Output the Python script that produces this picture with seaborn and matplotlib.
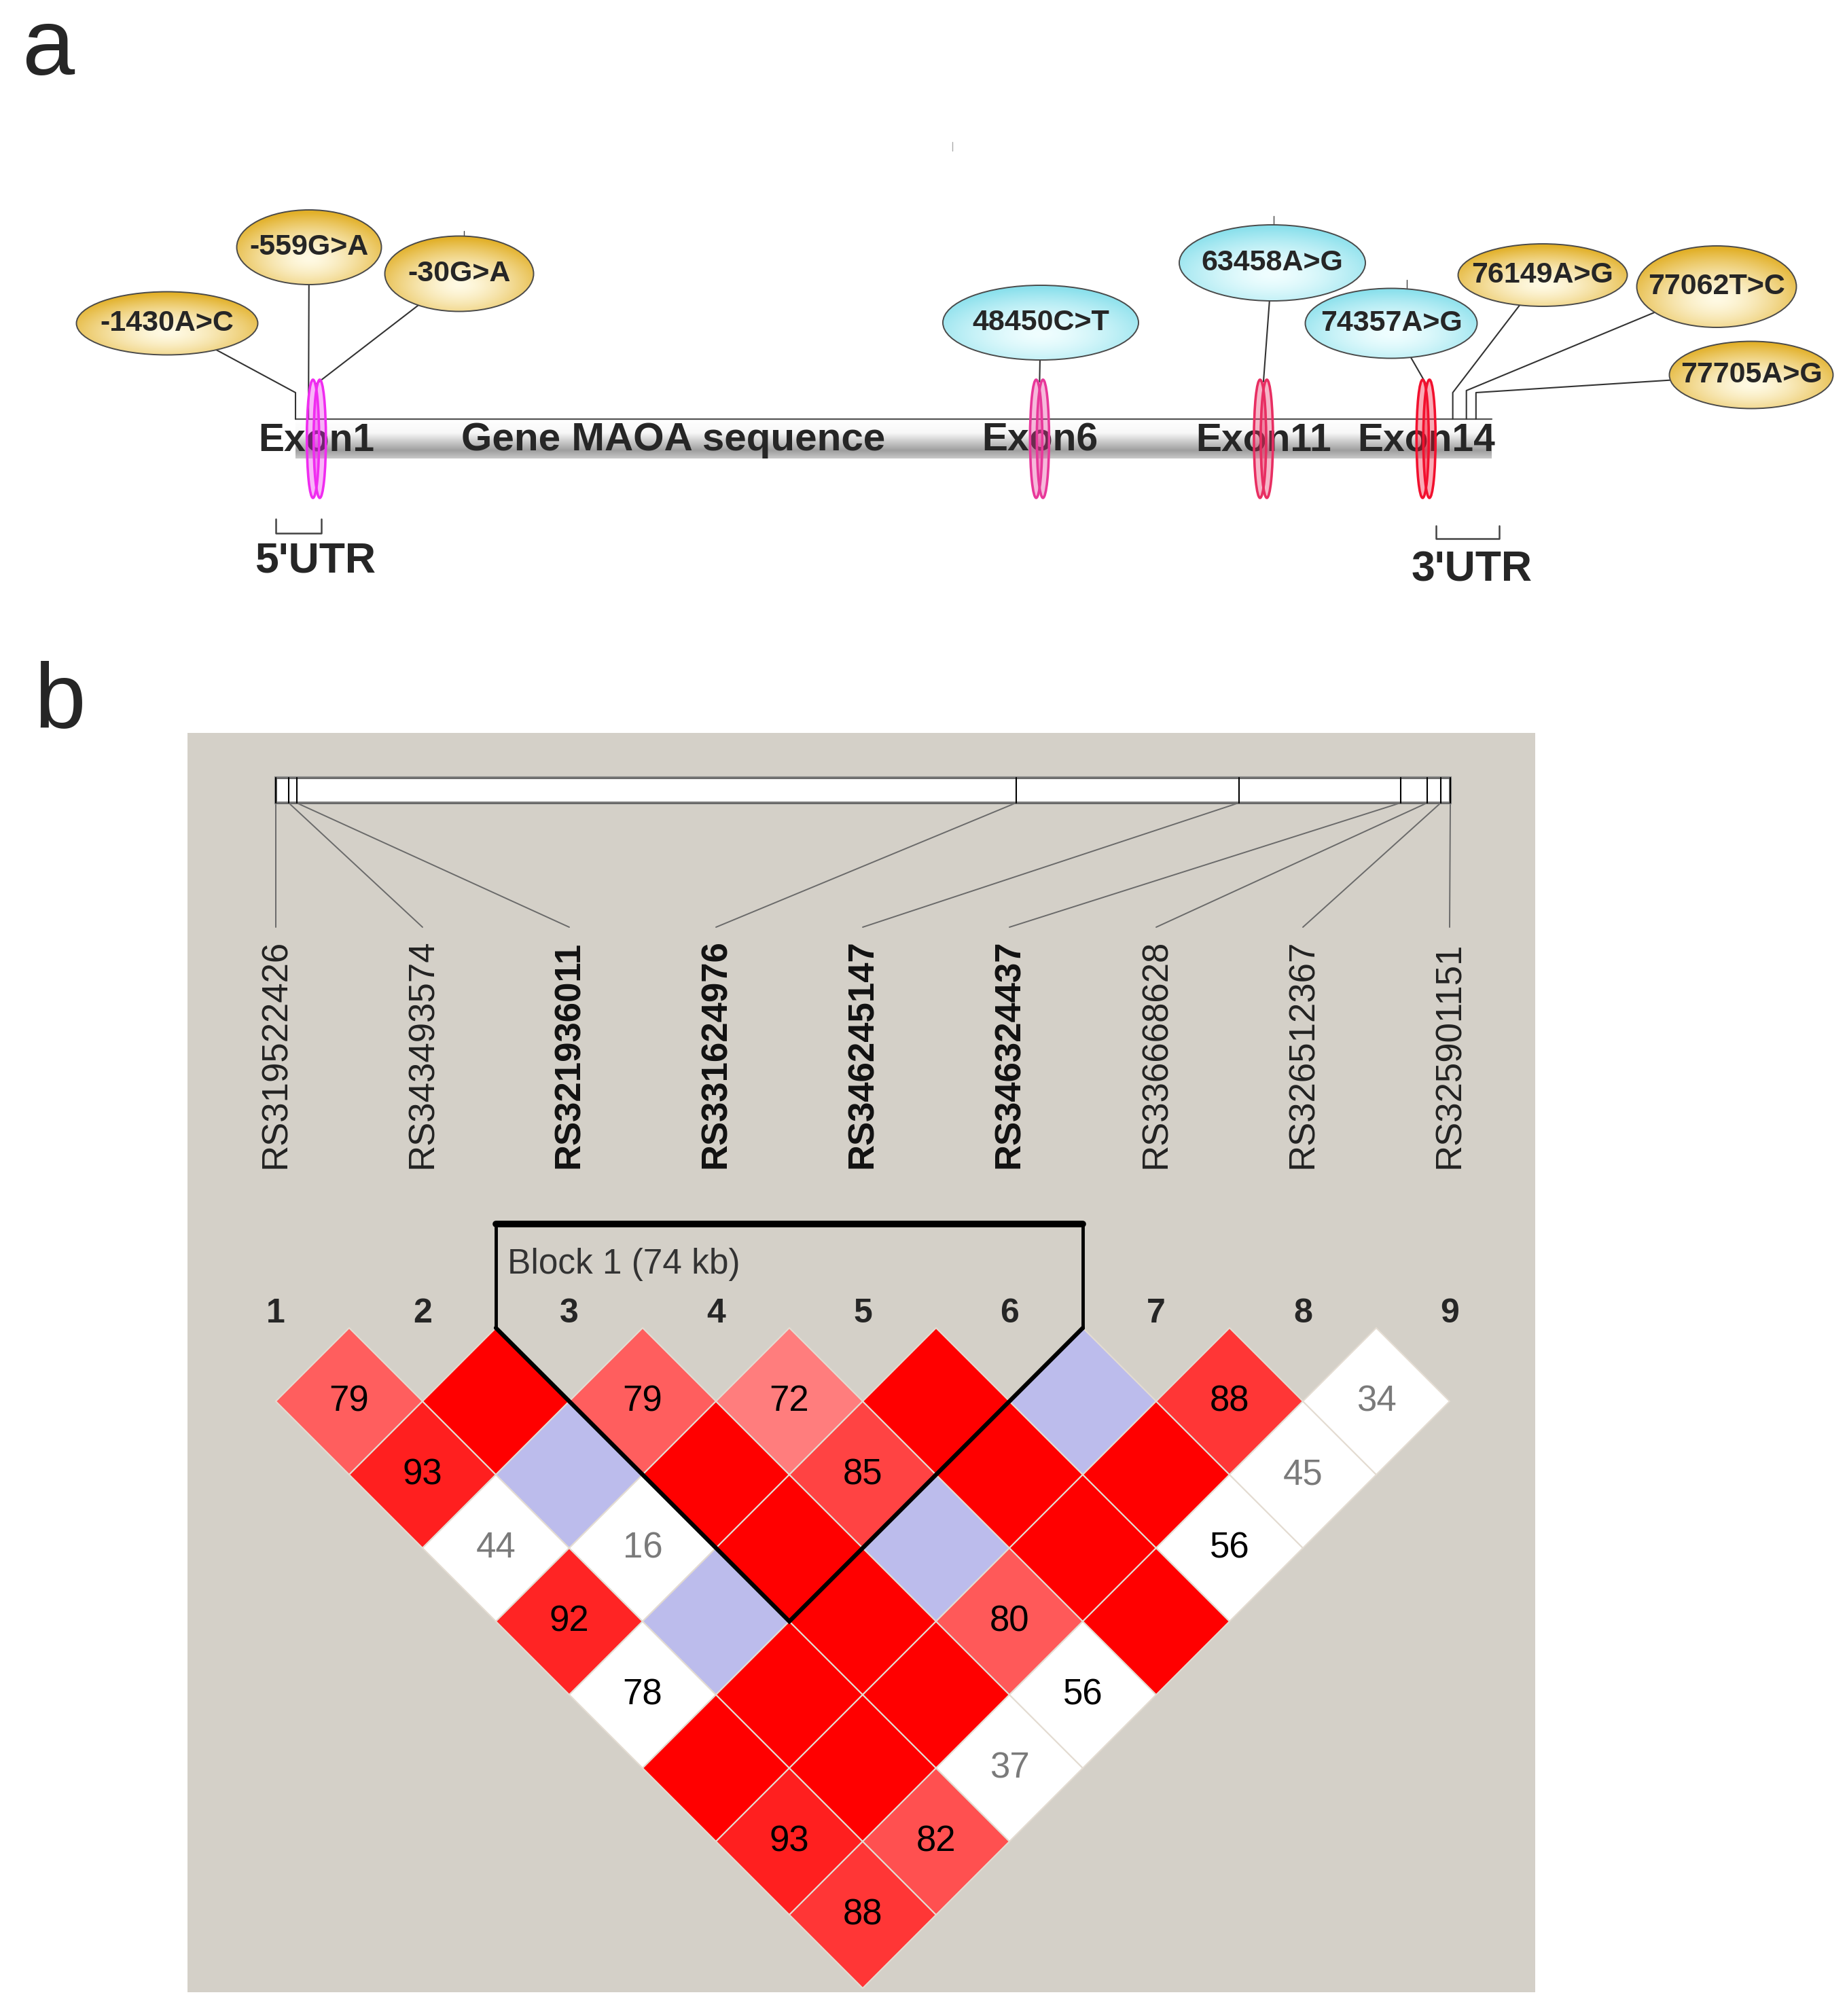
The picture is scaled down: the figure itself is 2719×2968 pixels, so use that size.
import numpy as np
import pandas as pd
import matplotlib
matplotlib.use("Agg")
import matplotlib.pyplot as plt
from matplotlib.patches import Ellipse, Polygon, Rectangle
import seaborn as sns

# ---- data: MAOA SNPs (panel a) ----
snp_names = ["-1430A>C", "-559G>A", "-30G>A", "48450C>T", "63458A>G",
             "74357A>G", "76149A>G", "77062T>C", "77705A>G"]
snp_pos = [-1430, -559, -30, 48450, 63458, 74357, 76149, 77062, 77705]
snp_region = ["UTR", "UTR", "UTR", "CDS", "CDS", "CDS", "UTR", "UTR", "UTR"]
exon_names = ["Exon1", "Exon6", "Exon11", "Exon14"]
exon_pos = [-30, 48450, 63458, 74357]
gene_label = "Gene MAOA sequence"

# ---- data: LD plot (panel b) ----
rs_ids = ["RS319522426", "RS343493574", "RS321936011", "RS331624976", "RS346245147",
          "RS346324437", "RS336668628", "RS326512367", "RS325901151"]
block_first, block_last = 3, 6

# D' (x100) for marker i against markers i+1..9
dprime_rows = [
    [79, 93, 44, 92, 78, 100, 93, 88],
    [100, 100, 16, 100, 100, 100, 82],
    [79, 100, 100, 100, 100, 37],
    [72, 85, 100, 80, 56],
    [100, 100, 100, 100],
    [100, 100, 56],
    [88, 45],
    [34],
]
# LOD >= 2 ?
lod_rows = [
    [1, 1, 0, 1, 0, 1, 1, 1],
    [1, 0, 0, 0, 1, 1, 1],
    [1, 1, 1, 1, 1, 0],
    [1, 1, 0, 1, 0],
    [1, 1, 1, 1],
    [0, 1, 0],
    [1, 0],
    [0],
]

rows = []
for i, (drow, lrow) in enumerate(zip(dprime_rows, lod_rows), start=1):
    for k, (d, l) in enumerate(zip(drow, lrow)):
        rows.append({"i": i, "j": i + k + 1, "dprime": d, "strong": bool(l)})
ld = pd.DataFrame(rows)

# ---- style ----
sns.set_theme(style="white")
plt.rcParams["font.family"] = ["Liberation Sans", "DejaVu Sans"]

W, H = 2719, 2968
fig = plt.figure(figsize=(W / 100, H / 100), dpi=100)
ax = fig.add_axes([0, 0, 1, 1])
ax.axis("off")

# ================= panel a =================
ax.text(32, 110, "a", fontsize=100, ha="left", va="baseline")

bar_x0, bar_x1 = 435, 2196
bar_top, bar_bot = 617, 675
px_per_bp = 0.02196


def gene_x(pos):
    return bar_x0 + (pos - snp_pos[0]) * px_per_bp


# gene bar with vertical gray gradient
t = np.linspace(0, 1, 60)
shade = np.interp(t, [0, 0.35, 0.8, 1.0], [1.0, 0.97, 0.62, 0.78])
grad = np.repeat(shade[:, None], 2, axis=1)
grad = np.dstack([grad, grad, grad])
ax.imshow(grad, extent=(bar_x0, bar_x1, bar_bot, bar_top), aspect="auto",
          interpolation="bilinear", zorder=1)
ax.plot([bar_x0, bar_x1], [bar_top, bar_top], color="#555555", lw=1.6, zorder=2)

# labels on the bar
lab_y = 648
for name, pos in zip(exon_names, exon_pos):
    ax.text(gene_x(pos), lab_y, name, fontsize=41, fontweight="bold",
            ha="center", va="center", zorder=3)
ax.text(991, lab_y, gene_label, fontsize=42, fontweight="bold",
        ha="center", va="center", zorder=3)

# exon glyphs
exon_cols = ["#F02CF0", "#E8389A", "#E82E62", "#F2102E"]
for pos, c in zip(exon_pos, exon_cols):
    x = gene_x(pos)
    for off in (-5, 5):
        ax.add_patch(Ellipse((x + off, 646), 18, 174, facecolor=c, alpha=0.35,
                             edgecolor="none", zorder=6))
        ax.add_patch(Ellipse((x + off, 646), 18, 174, facecolor="none",
                             edgecolor=c, lw=2.6, zorder=6))

# SNP balloons (layout)
bal_cx = [246, 455, 676, 1532, 1873, 2048, 2271, 2527, 2578]
bal_cy = [476, 364, 403, 475, 387, 476, 405, 422, 552]
bal_w = [267, 213, 219, 288, 274, 253, 249, 235, 241]
bal_h = [93, 110, 111, 110, 112, 103, 92, 120, 99]
elbow_y = [578, 600, 565, 562, 562, 565, 578, 575, 578]
snp_in_exon = [p in exon_pos for p in snp_pos]

fills = {"UTR": (np.array([255, 250, 228]) / 255, np.array([226, 176, 40]) / 255),
         "CDS": (np.array([240, 254, 255]) / 255, np.array([138, 224, 236]) / 255)}


def ellipse_edge(cx, cy, w, h, tx, ty):
    dx, dy = tx - cx, ty - cy
    k = 1 / np.sqrt((dx / (w / 2)) ** 2 + (dy / (h / 2)) ** 2)
    return cx + dx * k, cy + dy * k


n = 90
yy, xx = np.mgrid[-1:1:n * 1j, -1:1:n * 1j]
rr = np.clip(np.hypot(xx, yy - 0.3) / 1.25, 0, 1) ** 1.5

for name, pos, reg, cx, cy, w, h, ey, inex in zip(snp_names, snp_pos, snp_region, bal_cx,
                                                  bal_cy, bal_w, bal_h, elbow_y, snp_in_exon):
    inner, outer = fills[reg]
    img = inner[None, None, :] * (1 - rr[..., None]) + outer[None, None, :] * rr[..., None]
    im = ax.imshow(img, extent=(cx - w / 2, cx + w / 2, cy + h / 2, cy - h / 2),
                   aspect="auto", interpolation="bilinear", zorder=4)
    e = Ellipse((cx, cy), w, h, facecolor="none", edgecolor="#4a4a4a", lw=1.4, zorder=5)
    ax.add_patch(e)
    im.set_clip_path(e)
    ax.text(cx, cy, name, fontsize=31, fontweight="bold", ha="center", va="center", zorder=7)

    sx = gene_x(pos)
    x0, y0 = ellipse_edge(cx, cy, w, h, sx, ey)
    xs, ys = [x0, sx], [y0, ey]
    if not inex:
        xs.append(sx)
        ys.append(bar_top)
    ax.plot(xs, ys, color="#333333", lw=1.5, zorder=3)

# small stray ticks
for x, y0, y1, c in [(1402, 209, 222, "#aaaaaa"), (683, 340, 349, "#444444"),
                     (1875, 318, 331, "#444444"), (2071, 412, 424, "#444444")]:
    ax.plot([x, x], [y0, y1], color=c, lw=1, zorder=3)

# UTR brackets
for (xa, xb, ya, yb), lab, lx, ly in [((406, 473, 764, 785), "5'UTR", 464, 826),
                                      ((2114, 2207, 774, 793), "3'UTR", 2167, 839)]:
    ax.plot([xa, xa, xb, xb], [ya, yb, yb, ya], color="#444444", lw=1.8)
    ax.text(lx, ly, lab, fontsize=45, fontweight="bold", ha="center", va="center")

# ================= panel b =================
ax.text(50, 1070, "b", fontsize=98, ha="left", va="baseline")
ax.add_patch(Rectangle((276, 1079), 2260 - 276, 2933 - 1079, facecolor="#D4D0C8",
                       edgecolor="none", zorder=0))

# physical map bar
pb_x0, pb_x1, pb_top, pb_bot = 406, 2135, 1145, 1182
span = snp_pos[-1] - snp_pos[0]


def phys_x(pos):
    return pb_x0 + (pos - snp_pos[0]) / span * (pb_x1 - pb_x0)


ax.add_patch(Rectangle((pb_x0, pb_top), pb_x1 - pb_x0, pb_bot - pb_top, facecolor="white",
                       edgecolor="#8a8a8a", lw=3, zorder=2))
ax.add_patch(Rectangle((pb_x0, pb_top), pb_x1 - pb_x0, pb_bot - pb_top, facecolor="none",
                       edgecolor="#555555", lw=1, zorder=2))

step = 216
half = step / 2
label_x = [pb_x0 + k * step for k in range(len(rs_ids))]
line_top, line_bot = pb_bot, 1365
for k, (pos, rid) in enumerate(zip(snp_pos, rs_ids)):
    px = phys_x(pos)
    ax.plot([px, px], [pb_top, pb_bot], color="black", lw=1.5, zorder=3)
    ax.plot([px, label_x[k]], [line_top, line_bot], color="#6a6a6a", lw=1.4, zorder=1)
    bold = block_first <= k + 1 <= block_last
    ax.text(label_x[k], 1720, rid, rotation=90, rotation_mode="anchor", ha="left",
            va="center", fontsize=38, fontweight="bold" if bold else "normal",
            color="#111111" if bold else "#222222")
    ax.text(label_x[k], 1934, str(k + 1), fontsize=36, fontweight="bold",
            ha="center", va="center")

# LD diamonds
row1_c = 2063


def ld_color(d, strong):
    if strong and d >= 100:
        return (1.0, 0.0, 0.0)
    if strong:
        g = min(255, 446 * (1 - d / 100)) / 255
        return (1.0, g, g)
    if d >= 100:
        return (188 / 255, 188 / 255, 236 / 255)
    return (1.0, 1.0, 1.0)


for r in ld.itertuples():
    cx = (label_x[r.i - 1] + label_x[r.j - 1]) / 2
    cy = row1_c + (r.j - r.i - 1) * half
    pts = [(cx, cy - half), (cx + half, cy), (cx, cy + half), (cx - half, cy)]
    ax.add_patch(Polygon(pts, closed=True, facecolor=ld_color(r.dprime, r.strong),
                         edgecolor="#E4DCD2", lw=1.5, zorder=2))
    if r.dprime < 100:
        ax.text(cx, cy, str(r.dprime), fontsize=38, ha="center", va="center",
                color="black" if r.dprime >= 50 else "#7a7a7a", zorder=4)

# haplotype block outline
bl = label_x[block_first - 1] - half
br = label_x[block_last - 1] + half
top_tip = row1_c - half
apex_x = (label_x[block_first - 1] + label_x[block_last - 1]) / 2
apex_y = top_tip + (block_last - block_first + 1) * half
block_top = 1802
ax.plot([bl, bl, br, br], [top_tip, block_top, block_top, top_tip],
        color="black", lw=3.5, zorder=5, solid_joinstyle="miter")
ax.plot([bl, br], [block_top, block_top], color="black", lw=7, zorder=5)
ax.plot([bl, apex_x, br], [top_tip, apex_y, top_tip], color="black", lw=4.5, zorder=5,
        solid_joinstyle="miter")
block_kb = (snp_pos[block_last - 1] - snp_pos[block_first - 1]) / 1000
ax.text(bl + 17, 1862, f"Block 1 ({block_kb:.0f} kb)", fontsize=37, color="#333333",
        ha="left", va="center", zorder=5)

ax.set_xlim(0, W)
ax.set_ylim(H, 0)
fig.savefig("out.png", dpi=100, facecolor="white")
